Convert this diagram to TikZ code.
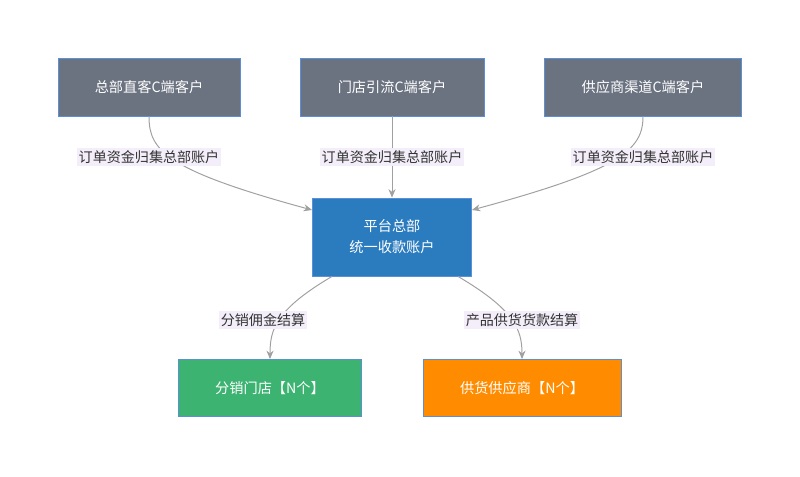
\documentclass[tikz,border=0pt]{standalone}
\usepackage{fontspec}
\setmainfont{Noto Sans CJK SC}
\usetikzlibrary{arrows.meta}
\definecolor{boxgray}{HTML}{6B7280}
\definecolor{boxblue}{HTML}{2B7BBF}
\definecolor{boxgreen}{HTML}{3CB371}
\definecolor{boxorange}{HTML}{FF8C00}
\definecolor{edgeblue}{HTML}{5B8FD9}
\definecolor{lblbg}{HTML}{F3EEF9}
\definecolor{linegray}{HTML}{A0A0A0}
\tikzset{
  box/.style={draw=edgeblue, line width=0.6pt, text=white, align=center,
    font=\fontsize{10.1}{15}\selectfont, inner sep=0pt},
  lbl/.style={fill=lblbg, text=black!80, font=\fontsize{10}{12}\selectfont,
    inner sep=1.5pt},
  conn/.style={draw=linegray, line width=0.7pt, -{Stealth[length=6pt,width=5pt]}}
}
\begin{document}
\begin{tikzpicture}[x=0.025cm, y=-0.025cm]
	\useasboundingbox (0,0) rectangle (800,476);

	% top row
	\node[box, fill=boxgray, minimum width=182*0.025cm, minimum height=58*0.025cm] (hq) at (149,87) {总部直客C端客户};
	\node[box, fill=boxgray, minimum width=184*0.025cm, minimum height=58*0.025cm] (store) at (392,87) {门店引流C端客户};
	\node[box, fill=boxgray, minimum width=197*0.025cm, minimum height=58*0.025cm] (supp) at (643,87) {供应商渠道C端客户};

	% platform
	\node[box, fill=boxblue, minimum width=159*0.025cm, minimum height=78*0.025cm] (plat) at (392,237) {平台总部\\统一收款账户};

	% bottom row
	\node[box, fill=boxgreen, minimum width=183*0.025cm, minimum height=57*0.025cm] (dist) at (270,388) {分销门店【N个】};
	\node[box, fill=boxorange, minimum width=198*0.025cm, minimum height=57*0.025cm] (vend) at (522,388) {供货供应商【N个】};

	% connectors
	\draw[conn] (hq.south) .. controls (149,150) and (165,170) .. (plat.north west |- 0,210);
	\draw[conn] (store.south) -- (plat.north);
	\draw[conn] (supp.south) .. controls (643,150) and (620,170) .. (plat.north east |- 0,210);
	\draw[conn] (plat.south west -| 332,0) .. controls (275,310) and (270,330) .. (dist.north);
	\draw[conn] (plat.south east -| 458,0) .. controls (515,310) and (522,330) .. (vend.north);

	% labels
	\node[lbl] (l1) at (149,157) {订单资金归集总部账户};
	\node[lbl] (l2) at (392,157) {订单资金归集总部账户};
	\node[lbl] (l3) at (643,157) {订单资金归集总部账户};
	\node[lbl] (l4) at (263,320) {分销佣金结算};
	\node[lbl] (l5) at (522,320) {产品供货货款结算};
\end{tikzpicture}
\end{document}
